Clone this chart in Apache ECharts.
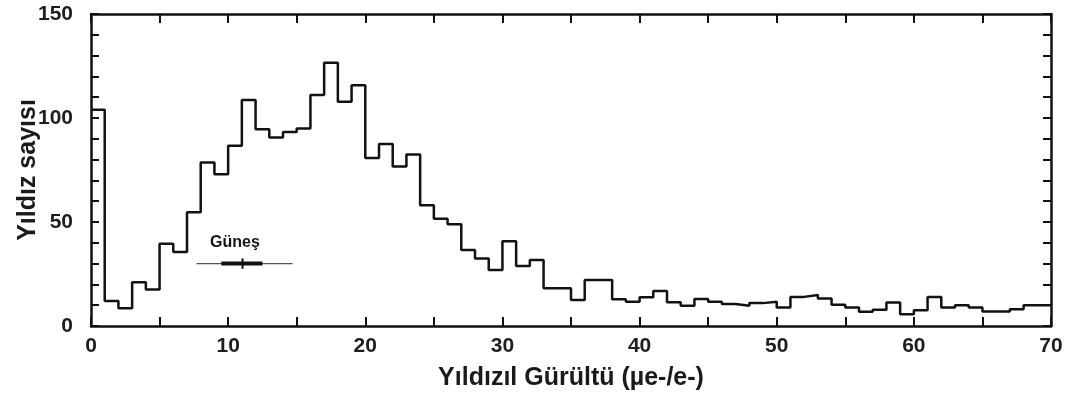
<!DOCTYPE html>
<html>
<head>
<meta charset="utf-8">
<script src="https://cdn.jsdelivr.net/npm/echarts@6/dist/echarts.min.js"></script>
<style>
html,body{margin:0;padding:0;background:#fff;}
#chart{width:1065px;height:399px;}
</style>
</head>
<body>
<div id="chart"></div>
<script>
// Histogram bins: left edge of each 1-unit bin (0..69) and star counts
const binEdges = Array.from({length: 70}, (_, i) => i);
const starCounts = [
  104, 12, 8.5, 21, 17.5, 39.6, 35.6, 54.7, 78.6, 73,
  86.6, 108.6, 94.6, 90.6, 93.3, 95, 111, 126.6, 107.8, 115.7,
  80.8, 87.5, 76.7, 82.4, 58, 51.6, 48.9, 36.5, 32.5, 26.9,
  40.8, 28.8, 31.7, 18.1, 18.1, 12.5, 22.1, 22.1, 12.9, 11.7,
  13.8, 16.8, 11.4, 9.7, 13, 11.7, 10.6, 9.7, 11, 11.7,
  8.9, 14, 14.9, 13.2, 10.2, 8.9, 6.8, 7.8, 11.3, 5.7,
  7.6, 14, 8.9, 10, 8.9, 7, 7, 8.1, 10, 10
];
const xTickLabels = [0, 10, 20, 30, 40, 50, 60, 70];
const yTickLabels = [0, 50, 100, 150];
// Sun marker (Güneş)
const sunLabel = 'Güneş';
const sunValue = 11.05;
const sunCount = 30;
const sunOuterRange = [7.7, 14.7];
const sunInnerRange = [9.5, 12.5];
const sunTickSpan = [27.5, 32.5];
const sunLabelPos = [10.5, 40];

const stepData = binEdges.map((x, i) => [x, starCounts[i]]);
stepData.push([binEdges[binEdges.length - 1] + 1, starCounts[starCounts.length - 1]]);

const FONT = "'Liberation Sans', Arial, sans-serif";
const AX = '#111';

const chart = echarts.init(document.getElementById('chart'), null, {renderer: 'canvas'});
const baseX = {
  type: 'value', min: 0, max: 70, interval: 5,
  axisLine: {show: true, onZero: false, lineStyle: {color: AX, width: 2.5}},
  axisTick: {show: true, inside: true, length: 9, lineStyle: {color: AX, width: 2}},
  splitLine: {show: false}
};
const baseY = {
  type: 'value', min: 0, max: 150, interval: 10,
  axisLine: {show: true, onZero: false, lineStyle: {color: AX, width: 2.5}},
  axisTick: {show: true, inside: true, length: 8, lineStyle: {color: AX, width: 2}},
  splitLine: {show: false}
};
chart.setOption({
  animation: false,
  backgroundColor: '#fff',
  grid: {left: 91, right: 14, top: 14, bottom: 73, containLabel: false, outerBoundsMode: 'none'},
  xAxis: [
    Object.assign({}, baseX, {
      position: 'bottom',
      name: 'Yıldızıl Gürültü (µe-/e-)', nameLocation: 'middle', nameGap: 40,
      nameMoveOverlap: false,
      nameTextStyle: {fontFamily: FONT, fontWeight: 'bold', fontSize: 25, color: '#1a1a1a'},
      axisLabel: {
        show: true, margin: 10, fontFamily: FONT, fontWeight: 'bold', fontSize: 21, color: '#1e1e1e',
        formatter: v => xTickLabels.includes(v) ? String(v) : ''
      }
    }),
    Object.assign({}, baseX, {position: 'top', axisLabel: {show: false}})
  ],
  yAxis: [
    Object.assign({}, baseY, {
      position: 'left',
      name: 'Yıldız sayısı', nameLocation: 'middle', nameGap: 50,
      nameMoveOverlap: false,
      nameTextStyle: {fontFamily: FONT, fontWeight: 'bold', fontSize: 25, color: '#1a1a1a'},
      axisLabel: {
        show: true, margin: 18, fontFamily: FONT, fontWeight: 'bold', fontSize: 21, color: '#1e1e1e',
        formatter: v => yTickLabels.includes(v) ? String(v) : ''
      }
    }),
    Object.assign({}, baseY, {position: 'right', axisLabel: {show: false}})
  ],
  series: [
    {
      type: 'line', step: 'end', data: stepData, showSymbol: false, symbol: 'none',
      lineStyle: {color: '#111', width: 2.5}, z: 3, clip: true
    },
    {
      type: 'line', data: [[sunOuterRange[0], sunCount], [sunOuterRange[1], sunCount]],
      symbol: 'none', lineStyle: {color: '#555', width: 1.2}, z: 4
    },
    {
      type: 'line', data: [[sunInnerRange[0], sunCount], [sunInnerRange[1], sunCount]],
      symbol: 'none', lineStyle: {color: '#111', width: 4}, z: 5
    },
    {
      type: 'line', data: [[sunValue, sunTickSpan[0]], [sunValue, sunTickSpan[1]]],
      symbol: 'none', lineStyle: {color: '#111', width: 2}, z: 6
    },
    {
      type: 'scatter', data: [sunLabelPos], symbolSize: 0, z: 7,
      itemStyle: {opacity: 1, color: '#111'},
      label: {show: true, position: 'inside', formatter: sunLabel, opacity: 1,
        fontFamily: FONT, fontWeight: 'bold', fontSize: 16, color: '#151515'}
    }
  ]
});
</script>
</body>
</html>
